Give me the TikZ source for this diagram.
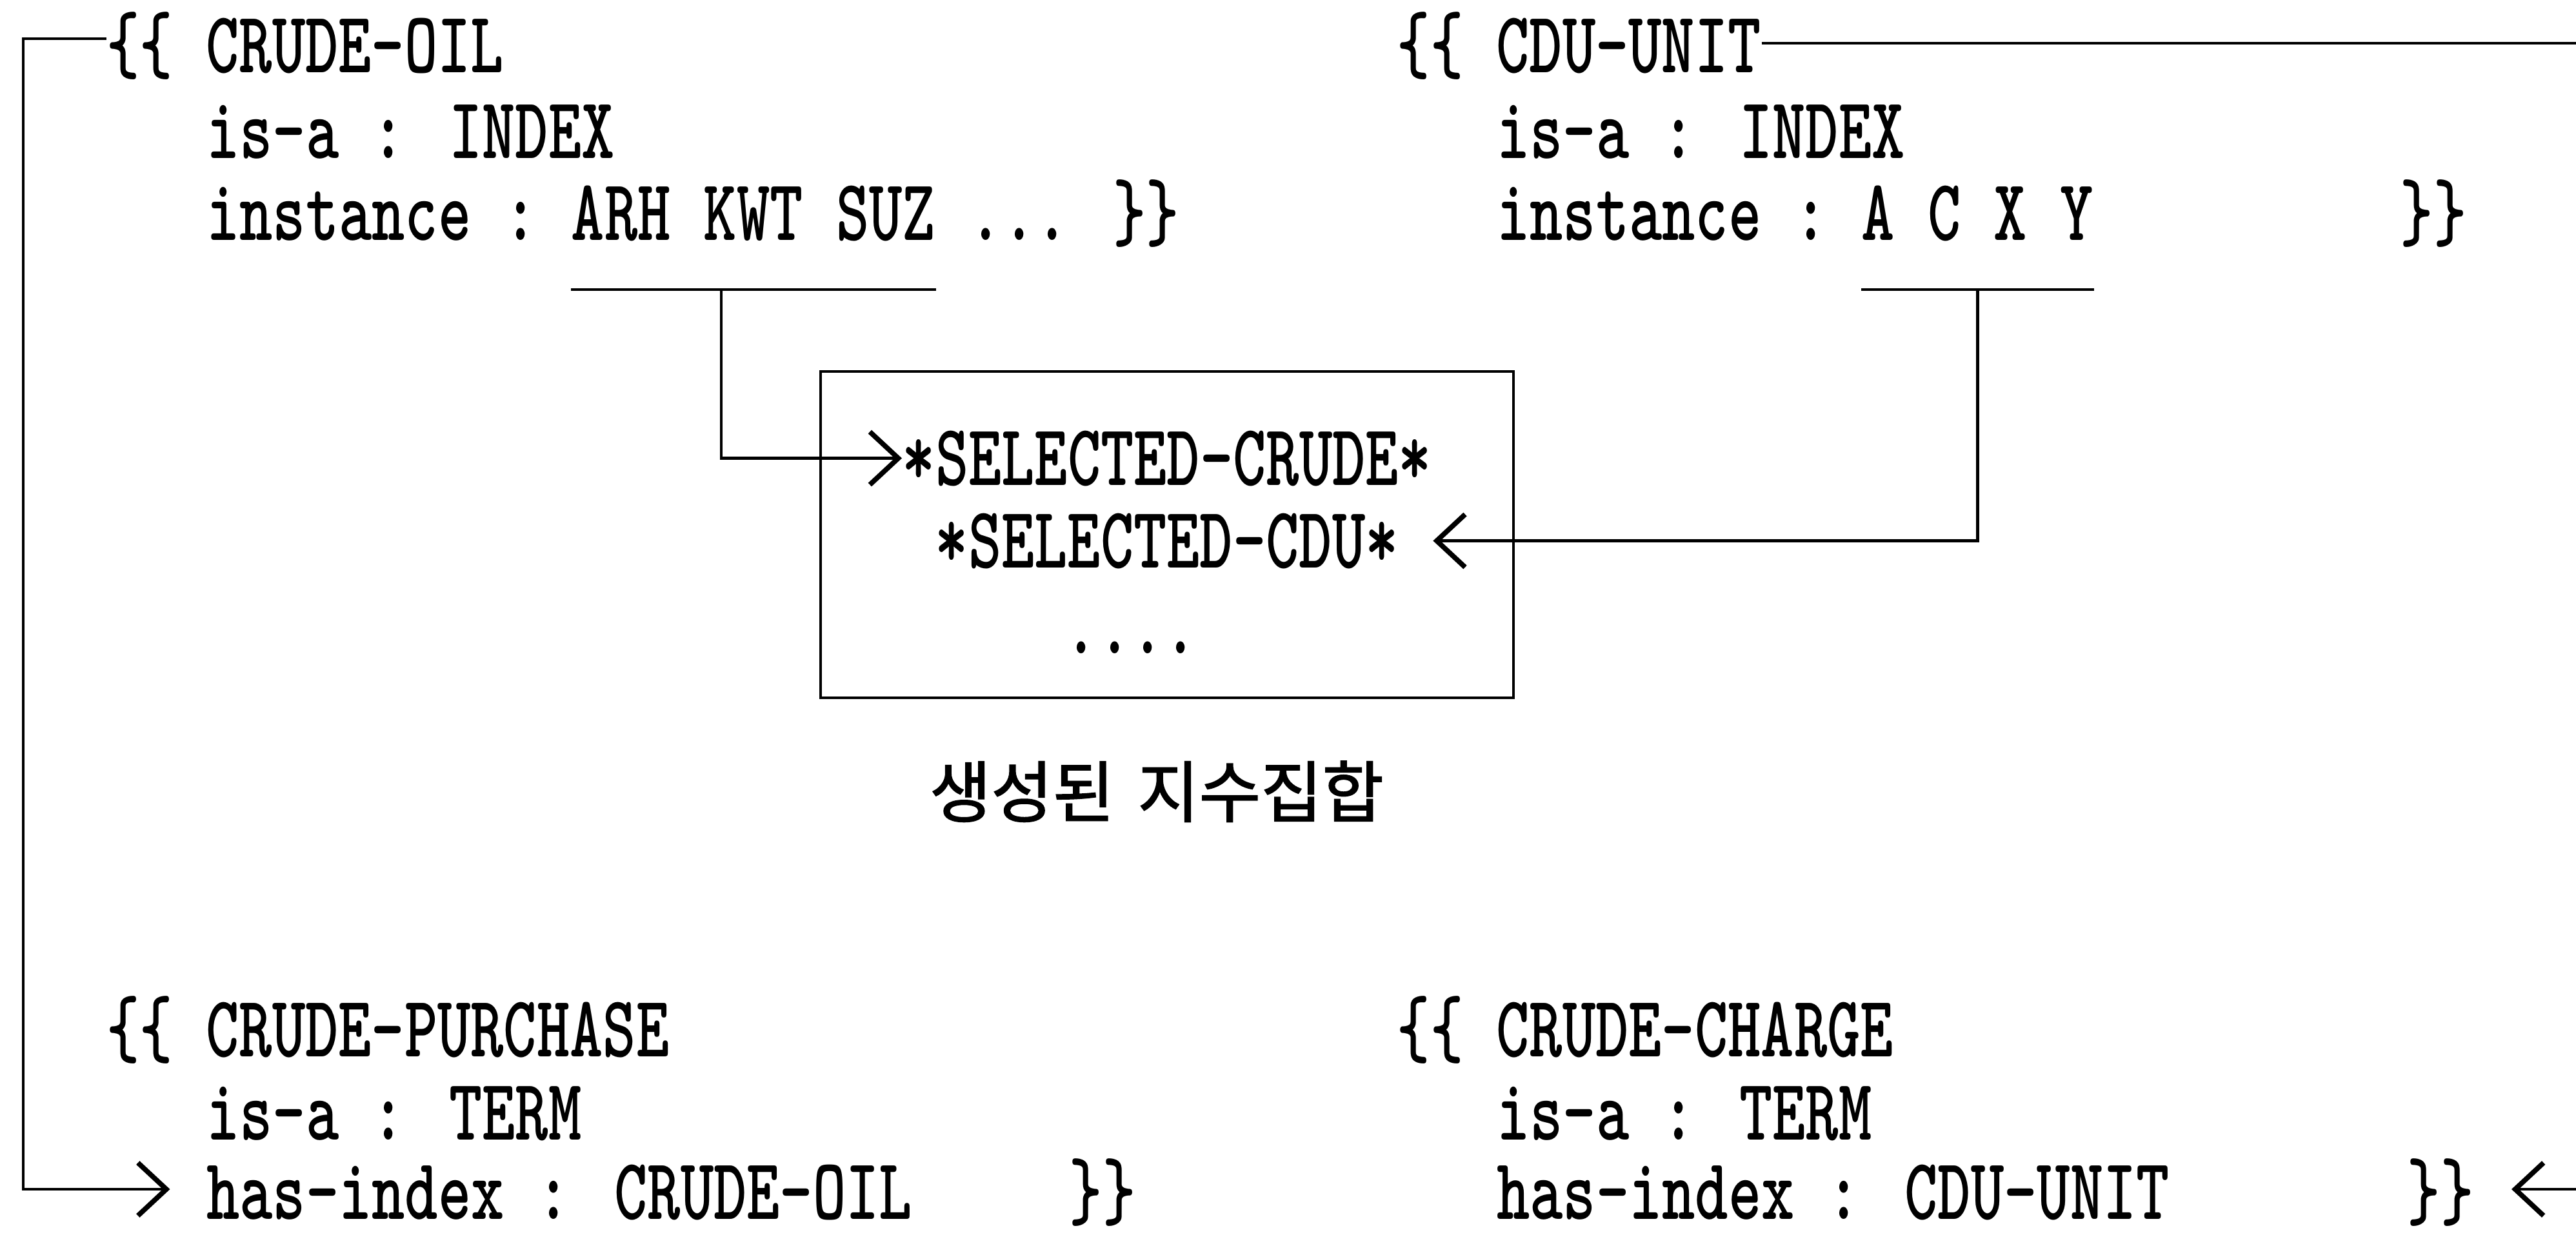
\documentclass[tikz,border=0pt]{standalone}
\usepackage{fontspec}
\usetikzlibrary{arrows.meta,positioning}
\newfontfamily\framefont{lmmonolt10-bold.otf}[FakeStretch=0.72]
\newfontfamily\kofont{Noto Sans CJK KR}[FakeBold=1.6]

\begin{document}
\begin{tikzpicture}[
    x=1cm,y=1cm,
    txt/.style    = {inner sep=0pt,anchor=base west,
                     font=\framefont\fontsize{38.6}{38.6}\selectfont},
    setbox/.style = {draw,line width=1.3pt,inner sep=0pt,
                     minimum width=10.74cm,minimum height=5.06cm},
    wire/.style   = {line width=1.3pt},
    fl/.style     = {wire,-{Straight Barb[length=4.4mm,width=8.2mm,line width=2.2pt]}},
    kor/.style    = {inner sep=0pt,font=\kofont\fontsize{29.5}{29.5}\selectfont},
  ]
  \useasboundingbox (0,0) rectangle (39.93,-19.14);

  % index frames
  \node[txt] (oilhd)  at (1.65,-1.13)   {\{\{ CRUDE-OIL};
  \node[txt] (oilisa) at (3.195,-2.45)  {is-a : INDEX};
  \node[txt] (oilins) at (3.195,-3.72)  {instance :};
  \node[txt,base right=5.15mm of oilins] (oilval) {ARH KWT SUZ};
  \node[txt,base right=5.15mm of oilval] (oiltl)  {... \}\}};

  \node[txt] (cduhd)  at (21.65,-1.13)  {\{\{ CDU-UNIT};
  \node[txt] (cduisa) at (23.195,-2.45) {is-a : INDEX};
  \node[txt] (cduins) at (23.195,-3.72) {instance :};
  \node[txt,base right=5.15mm of cduins] (cduval) {A C X Y};
  \node[txt] (cdutl)  at (37.20,-3.72)  {\}\}};

  % generated index set
  \node[setbox] (idxset) at (18.09,-8.29) {};
  \node[txt] (selcr)  at (13.98,-7.52)  {*SELECTED-CRUDE*};
  \node[txt] (selcdu) at (14.49,-8.80)  {*SELECTED-CDU*};
  \node[txt] (seldot) at (16.50,-10.13) {....};
  \node[kor,below=0.95cm of idxset,xshift=-1.6mm] (setlbl)
       {생성된\hspace{0.35em}지수집합};

  % term frames
  \node[txt] (purhd)  at (1.65,-16.38)  {\{\{ CRUDE-PURCHASE};
  \node[txt] (purisa) at (3.195,-17.67) {is-a : TERM};
  \node[txt] (purhas) at (3.195,-18.90) {has-index : CRUDE-OIL};
  \node[txt] (purtl)  at (16.57,-18.90) {\}\}};

  \node[txt] (chghd)  at (21.65,-16.38) {\{\{ CRUDE-CHARGE};
  \node[txt] (chgisa) at (23.195,-17.67) {is-a : TERM};
  \node[txt] (chghas) at (23.195,-18.90) {has-index : CDU-UNIT};
  \node[txt] (chgtl)  at (37.31,-18.90) {\}\}};

  % instance values feed the set
  \foreach \v in {oilval,cduval}
    \draw[wire] ([yshift=-7.7mm]\v.base west) -- ([yshift=-7.7mm]\v.base east);
  \draw[fl] ([xshift=-5mm,yshift=-7.7mm]oilval.base) |- (selcr.west);
  \draw[fl] ([yshift=-7.7mm]cduval.base) |- ([xshift=5.3mm]selcdu.east);

  % index frames referenced by the terms
  \draw[fl] ([yshift=5.3mm]oilhd.base west) -- ++(-1.29,0)
            |- ([xshift=-5.6mm,yshift=4.6mm]purhas.base west);
  \draw[fl] ([yshift=4.6mm]cduhd.base east) -- ++(12.7,0)
            |- ([xshift=5.8mm,yshift=4.6mm]chgtl.base east);

\end{tikzpicture}
\end{document}
